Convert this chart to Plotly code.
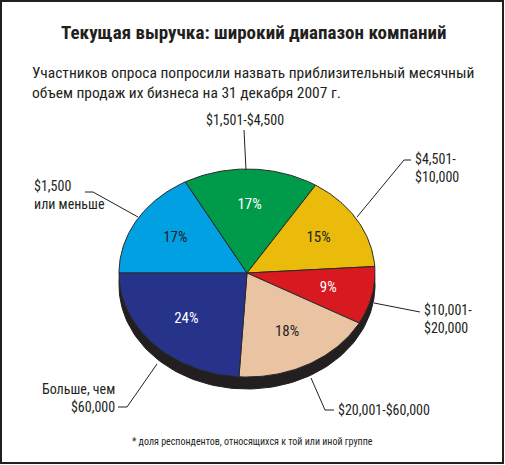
import numpy as np
import plotly.graph_objects as go

# ---- data ----
categories = ["$1,500 или меньше", "$1,501-$4,500", "$4,501-$10,000",
              "$10,001-$20,000", "$20,001-$60,000", "Больше, чем $60,000"]
shares = [17, 17, 15, 9, 18, 24]
pct_labels = ["17%", "17%", "15%", "9%", "18%", "24%"]
colors = ["#00a0e2", "#009b4a", "#eabb0b", "#d8191f", "#eac3a3", "#27338a"]
pct_text_colors = ["#231f20", "#ffffff", "#231f20", "#ffffff", "#231f20", "#ffffff"]

W, H = 505, 465
CX, CY = 247, 273      # pie centre in pixels
RX, RY = 128, 104      # pixels per unit along x / y (ellipse)
RIM = 12               # rim depth in px

NARROW = "Liberation Sans Narrow, Arial Narrow, Roboto Condensed, Liberation Sans, sans-serif"

fig = go.Figure()

# rim (3D edge)
t = np.linspace(0, 2 * np.pi, 200)
fig.add_trace(go.Scatter(x=np.cos(t), y=np.sin(t) - RIM / RY, mode="lines",
                         fill="toself", fillcolor="#231f20",
                         line=dict(color="#231f20", width=1), hoverinfo="skip",
                         showlegend=False))

# slices: start at 9 o'clock, clockwise
start = 180.0
cum = 0.0
mid_angles = []
for cat, s, col in zip(categories, shares, colors):
    a0 = start - cum / 100 * 360
    a1 = start - (cum + s) / 100 * 360
    ang = np.radians(np.linspace(a0, a1, 60))
    xs = np.concatenate([[0], np.cos(ang), [0]])
    ys = np.concatenate([[0], np.sin(ang), [0]])
    fig.add_trace(go.Scatter(x=xs, y=ys, mode="lines", fill="toself", fillcolor=col,
                             line=dict(color="#2a2a2a", width=1), name=cat,
                             hoverinfo="name", showlegend=False))
    mid_angles.append(np.radians((a0 + a1) / 2))
    cum += s

# percentage labels
rl = 0.65
for ma, lab, tc in zip(mid_angles, pct_labels, pct_text_colors):
    fig.add_trace(go.Scatter(x=[rl * np.cos(ma)], y=[rl * np.sin(ma)], mode="text",
                             text=[lab], textposition="middle center",
                             textfont=dict(family=NARROW, size=15, color=tc),
                             hoverinfo="skip", showlegend=False))

xr = [(0 - CX) / RX, (W - CX) / RX]
yr = [-(H - CY) / RY, CY / RY]


def px(x, y):
    return x / W, 1 - y / H


def leader(points):
    path = ""
    for i, (x, y) in enumerate(points):
        X, Y = px(x, y)
        path += ("M" if i == 0 else "L") + f" {X} {Y} "
    fig.add_shape(type="path", path=path, xref="paper", yref="paper",
                  line=dict(color="#231f20", width=1))


def label(x, y, text, xanchor="left", align="left", size=14):
    X, Y = px(x, y)
    fig.add_annotation(x=X, y=Y, xref="paper", yref="paper", text=text,
                       showarrow=False, xanchor=xanchor, yanchor="middle",
                       align=align, font=dict(family=NARROW, size=size, color="#231f20"))


# category labels with leader lines
label(245, 120, categories[1], xanchor="center", align="center")
leader([(244, 130), (246, 170)])

label(413, 168, "$4,501-<br>$10,000")
leader([(411, 160), (404, 160), (357, 217)])

label(422, 319, "$10,001-<br>$20,000")
leader([(374, 303), (420, 312)])

label(336, 410, categories[4])
leader([(311, 378), (325, 410), (334, 410)])

label(117, 398, "Больше, чем<br>$60,000", xanchor="right", align="right")
leader([(118, 407), (127, 407), (157, 364)])

label(32, 195, "$1,500<br>или меньше")
leader([(85, 192), (93, 192), (138, 217)])

# title, subtitle, footnote
X, Y = px(253, 33)
fig.add_annotation(x=X, y=Y, xref="paper", yref="paper",
                   text="<b>Текущая выручка: широкий диапазон компаний</b>",
                   showarrow=False, xanchor="center", yanchor="middle",
                   font=dict(family=NARROW, size=19, color="#231f20"))
X, Y = px(30, 83)
fig.add_annotation(x=X, y=Y, xref="paper", yref="paper",
                   text="Участников опроса попросили назвать приблизительный месячный<br>"
                        "объем продаж их бизнеса на 31 декабря 2007 г.",
                   showarrow=False, xanchor="left", yanchor="middle", align="left",
                   font=dict(family=NARROW, size=15.5, color="#231f20"))
X, Y = px(252, 441)
fig.add_annotation(x=X, y=Y, xref="paper", yref="paper",
                   text="* доля респондентов, относящихся к той или иной группе",
                   showarrow=False, xanchor="center", yanchor="middle",
                   font=dict(family=NARROW, size=10, color="#231f20"))

# frame
fig.add_shape(type="rect", xref="paper", yref="paper", x0=1 / W, y0=1 - 463 / H,
              x1=503 / W, y1=1 - 1 / H, line=dict(color="#231f20", width=2))

fig.update_layout(
    width=W, height=H, margin=dict(l=0, r=0, t=0, b=0),
    paper_bgcolor="white", plot_bgcolor="white",
    xaxis=dict(range=xr, visible=False, fixedrange=True),
    yaxis=dict(range=yr, visible=False, fixedrange=True),
    showlegend=False,
)

fig.write_html("out.html", config={"displayModeBar": False},
               post_script="document.body.style.margin='0';document.body.style.overflow='hidden';")
